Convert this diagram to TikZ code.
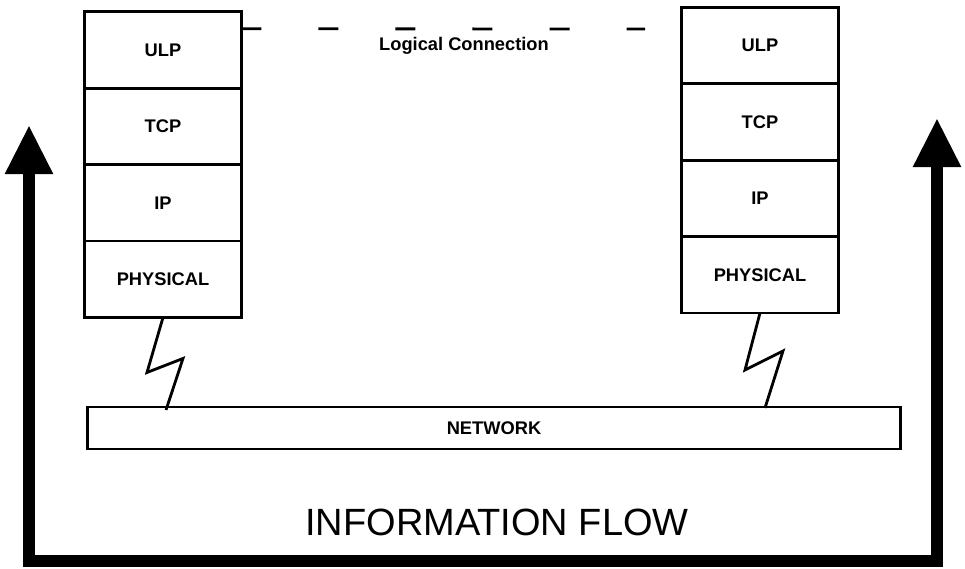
\documentclass[tikz,border=0pt]{standalone}
\usepackage{fontspec}
\usetikzlibrary{arrows.meta,positioning}
\setmainfont{Liberation Sans}

\begin{document}
\begin{tikzpicture}[x=0.025cm,y=-0.025cm,
    layer/.style={draw,line width=2pt,minimum width=3.92cm,minimum height=1.91cm,
        inner sep=0pt,outer sep=0pt,font=\fontsize{13}{15}\selectfont\bfseries},
    bolt/.style={line width=2pt},
    logical/.style={line width=2pt,dash pattern=on 0.5cm off 1.425cm},
    flow/.style={line width=8.5pt,
        {Triangle[length=35pt,width=32pt]}-{Triangle[length=35pt,width=32pt]}}]
        \useasboundingbox (0,0) rectangle (965,569);
        % left stack
        \node[layer] (lulp) at (163,50) {ULP};
        \node[layer,below=0pt of lulp] (ltcp) {TCP};
        \node[layer,below=0pt of ltcp] (lip) {IP};
        \node[layer,below=0pt of lip] (lphy) {PHYSICAL};
        % right stack
        \node[layer] (rulp) at (760,45.5) {ULP};
        \node[layer,below=0pt of rulp] (rtcp) {TCP};
        \node[layer,below=0pt of rtcp] (rip) {IP};
        \node[layer,below=0pt of rip] (rphy) {PHYSICAL};
        % network
        \node[draw,line width=2pt,minimum width=20.3cm,minimum height=1.05cm,inner sep=0pt,
            outer sep=0pt,font=\fontsize{13}{15}\selectfont\bfseries] (net) at (494,428) {NETWORK};
        \coordinate (lfoot) at (166,410);
        \coordinate (rfoot) at (765,408);
        \draw[bolt] (lphy.south) -- ++(-16,55) -- ++(36,-14) -- (lfoot);
        \draw[bolt] (rphy.south) -- ++(-15,57) -- ++(38,-19) -- (rfoot);
        % logical connection
        \coordinate (lcend) at (645,29);
        \draw[logical] ([yshift=-0.425cm]lulp.north east) -- (lcend);
        \node[anchor=base,font=\fontsize{13}{15}\selectfont\bfseries] (lclabel) at (464,51) {Logical Connection};
        % information flow
        \coordinate (lflow) at (29,125);
        \coordinate (rflow) at (937,118);
        \draw[flow] (lflow) -- ++(0,436) -| (rflow);
        \node[anchor=base,font=\fontsize{27}{30}\selectfont] (flowlabel) at (497,535) {INFORMATION FLOW};
\end{tikzpicture}
\end{document}
